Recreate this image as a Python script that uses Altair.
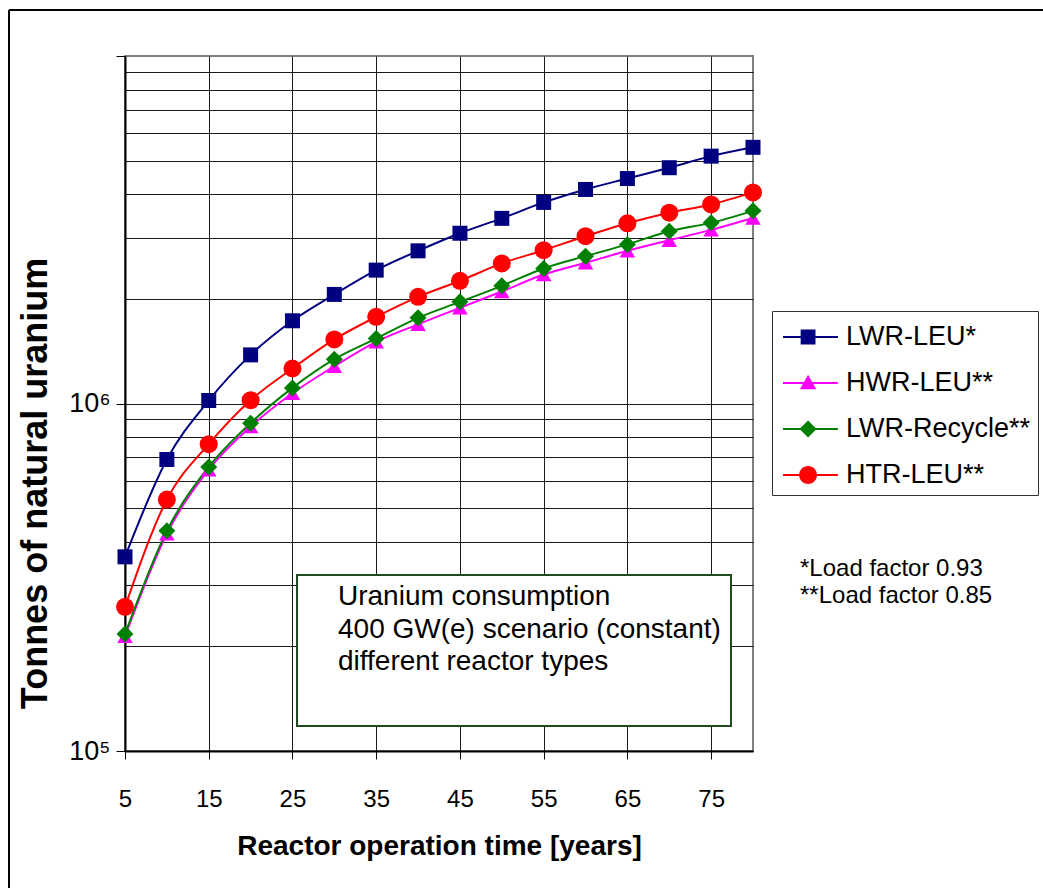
import altair as alt
import pandas as pd

# Cumulative natural-uranium demand (tonnes) for a constant 400 GW(e) fleet
years = [5, 10, 15, 20, 25, 30, 35, 40, 45, 50, 55, 60, 65, 70, 75, 80]
lwr_leu = [362000, 690000, 1020000, 1380000, 1730000, 2060000, 2420000, 2750000,
           3090000, 3410000, 3790000, 4130000, 4440000, 4770000, 5150000, 5460000]
hwr_leu = [214000, 422000, 645000, 858000, 1070000, 1280000, 1505000, 1690000,
           1885000, 2100000, 2350000, 2540000, 2750000, 2950000, 3160000, 3420000]
lwr_recycle = [217000, 430000, 657000, 878000, 1109000, 1341000, 1538000, 1764000,
               1961000, 2181000, 2447000, 2655000, 2870000, 3130000, 3310000, 3584000]
htr_leu = [260000, 529000, 764000, 1022000, 1261000, 1529000, 1776000, 2027000,
           2254000, 2530000, 2762000, 3030000, 3300000, 3540000, 3740000, 4050000]

series_names = ["LWR-LEU*", "HWR-LEU**", "LWR-Recycle**", "HTR-LEU**"]
series_values = [lwr_leu, hwr_leu, lwr_recycle, htr_leu]
series_colors = ["#000080", "#FF00FF", "#008000", "#FF0000"]
marker_shapes = ["square", "triangle-up", "diamond", "circle"]
marker_sizes = [225, 240, 289, 324]

# Legend glyphs: a short line segment with the series marker on it
legend_line = "M-0.79,-0.055H2.1V0.055H-0.79Z"
legend_glyphs = [
    legend_line + "M0.14,-0.39H0.92V0.39H0.14Z",
    legend_line + "M0.53,-0.44L0.96,0.33L0.10,0.33Z",
    legend_line + "M0.53,-0.45L0.98,0L0.53,0.45L0.08,0Z",
    legend_line + "M0.06,0A0.47,0.47 0 1,1 1.0,0A0.47,0.47 0 1,1 0.06,0Z",
]

x_tick_values = [5, 15, 25, 35, 45, 55, 65, 75]
y_grid_values = [100000, 200000, 300000, 400000, 500000, 600000, 700000, 800000, 900000,
                 1000000, 2000000, 3000000, 4000000, 5000000, 6000000, 7000000, 8000000,
                 9000000, 10000000]

note_lines = ["Uranium consumption", "400 GW(e) scenario (constant)", "different reactor types"]
footnote_lines = ["*Load factor 0.93", "**Load factor 0.85"]

rows = []
for name, vals in zip(series_names, series_values):
    for yr, v in zip(years, vals):
        rows.append({"series": name, "year": yr, "tonnes": v})
df = pd.DataFrame(rows)
one = pd.DataFrame({"k": [0]})

FONT = "Liberation Sans"

x_enc = alt.X(
    "year:Q",
    scale=alt.Scale(domain=[5, 80], nice=False, zero=False),
    axis=alt.Axis(
        values=x_tick_values, grid=True, gridColor="#1a1a1a", gridWidth=1,
        domainColor="#000000", domainWidth=2, tickColor="#000000", tickSize=8, tickWidth=1,
        labelFontSize=24, labelPadding=28, labelFlush=False, labelOverlap=False,
        labelColor="#000000", labelFont=FONT,
        title="Reactor operation time [years]", titleFont=FONT, titleFontSize=28,
        titleFontWeight="bold", titleColor="#000000", titleY=103, titleBaseline="alphabetic",
    ),
)
y_enc = alt.Y(
    "tonnes:Q",
    scale=alt.Scale(type="log", domain=[100000, 10000000], nice=False),
    axis=alt.Axis(
        values=y_grid_values, grid=True, gridWidth=1,
        gridColor={"condition": {"test": "datum.value == 10000000", "value": "transparent"},
                   "value": "#1a1a1a"},
        tickColor={"condition": {"test": "datum.value == 100000 || datum.value == 1000000 || datum.value == 10000000",
                                 "value": "#000000"}, "value": "transparent"},
        tickSize=9, tickWidth=1, domainColor="#000000", domainWidth=2,
        labelExpr="datum.value == 100000 ? '10⁵' : (datum.value == 1000000 ? '10⁶' : '')",
        labelFontSize=27, labelPadding=6, labelOverlap=False, labelFlush=False,
        labelColor="#000000", labelFont=FONT,
        title="Tonnes of natural uranium", titleFont=FONT, titleFontSize=36,
        titleFontWeight="bold", titleColor="#000000", titleAngle=270,
        titleX=-90, titleY=427, titleAlign="center", titleBaseline="middle",
    ),
)
color_scale = alt.Scale(domain=series_names, range=series_colors)

legend_props = dict(
    title=None, orient="none", legendX=647, legendY=255,
    labelFont=FONT, labelFontSize=27, labelColor="#000000", labelOffset=29, labelLimit=400,
    symbolSize=1444, symbolStrokeWidth=0, symbolOpacity=1,
    padding=7, rowPadding=14, strokeColor="#333333", fillColor="#ffffff",
)

# Invisible layer that only carries the legend (line-with-marker glyphs)
legend_layer = alt.Chart(df).mark_point(size=1444, filled=True, opacity=0).encode(
    x=x_enc, y=y_enc,
    color=alt.Color("series:N", scale=color_scale, legend=alt.Legend(**legend_props)),
    shape=alt.Shape("series:N", scale=alt.Scale(domain=series_names, range=legend_glyphs),
                    legend=alt.Legend(**legend_props)),
)

lines = alt.Chart(df).mark_line(interpolate="monotone", strokeWidth=2).encode(
    x=x_enc, y=y_enc, color=alt.Color("series:N", scale=color_scale),
    detail="series:N",
)

point_layers = []
for name, shp, sz in zip(series_names, marker_shapes, marker_sizes):
    point_layers.append(
        alt.Chart(df).transform_filter(alt.datum.series == name)
        .mark_point(shape=shp, size=sz, filled=True, opacity=1)
        .encode(x=x_enc, y=y_enc, color=alt.Color("series:N", scale=color_scale))
    )

note_box = alt.Chart(one).mark_rect(fill="#ffffff", stroke="#1e4a1e", strokeWidth=2).encode(
    x=alt.value(172), x2=alt.value(606), y=alt.value(519), y2=alt.value(670)
)
note_text = alt.Chart(one).mark_text(
    align="left", baseline="top", font=FONT, fontSize=28, lineHeight=32.5, color="#000000"
).encode(x=alt.value(213), y=alt.value(527), text=alt.value(note_lines))

footnote = alt.Chart(one).mark_text(
    align="left", baseline="top", font=FONT, fontSize=24, lineHeight=27, color="#000000"
).encode(x=alt.value(675), y=alt.value(501), text=alt.value(footnote_lines))

frame_left = alt.Chart(one).mark_rule(color="#000000", strokeWidth=2).encode(
    x=alt.value(-116), y=alt.value(-46), y2=alt.value(832)
)
frame_top = alt.Chart(one).mark_rule(color="#000000", strokeWidth=2).encode(
    x=alt.value(-116), x2=alt.value(918), y=alt.value(-46)
)

chart = alt.layer(
    legend_layer, lines, *point_layers, note_box, note_text, footnote, frame_left, frame_top
).properties(
    width=628, height=695,
    autosize=alt.AutoSizeParams(type="none"),
    padding={"left": 125, "top": 56, "right": 290, "bottom": 137},
).configure(font=FONT).configure_view(stroke="#808080", strokeWidth=2)

chart.save("out.html", embed_options={"renderer": "svg", "actions": False})
